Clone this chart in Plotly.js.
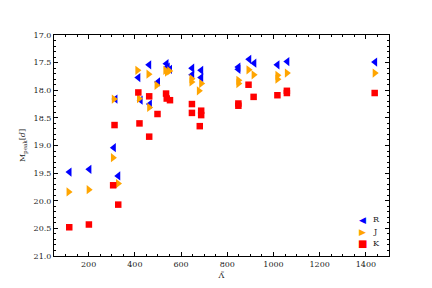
<!DOCTYPE html>
<html><head><meta charset="utf-8">
<script src="https://cdn.plot.ly/plotly-3.0.1.min.js"></script>
<style>body{margin:0;background:#fff}</style>
</head><body><div id="chart" style="width:432px;height:288px"></div>
<script>
const rX = [117, 203, 309, 316, 328, 415, 425, 462, 465, 500, 537, 542, 552, 648, 648, 687, 687, 848, 848, 895, 917, 1017, 1060, 1440];
const rY = [19.48, 19.43, 19.04, 18.16, 19.55, 17.77, 18.18, 17.54, 18.25, 17.85, 17.52, 17.58, 17.62, 17.60, 17.72, 17.64, 17.77, 17.58, 17.62, 17.44, 17.51, 17.54, 17.48, 17.49];
const jX = [113, 200, 305, 309, 327, 411, 418, 459, 462, 494, 532, 539, 549, 645, 645, 677, 687, 848, 848, 892, 914, 1017, 1017, 1058, 1438];
const jY = [19.84, 19.80, 19.22, 18.16, 19.69, 17.64, 18.15, 17.71, 18.31, 17.91, 17.64, 17.67, 17.65, 17.79, 17.85, 18.01, 17.88, 17.82, 17.88, 17.63, 17.72, 17.73, 17.80, 17.69, 17.69];
const kX = [116, 201, 306, 312, 328, 415, 420, 462, 462, 498, 535, 538, 552, 647, 647, 681, 687, 687, 848, 848, 892, 914, 1017, 1058, 1058, 1438];
const kY = [20.48, 20.43, 19.72, 18.63, 20.07, 18.04, 18.60, 18.11, 18.84, 18.43, 18.06, 18.15, 18.18, 18.25, 18.41, 18.65, 18.37, 18.45, 18.24, 18.28, 17.90, 18.12, 18.09, 18.01, 18.05, 18.05];
const seriesNames = ['R', 'J', 'K'];
const seriesColors = ['#0000ff', '#ffa500', '#ff0000'];
const legendGlyphs = ['◀', '▶', '■'];

const font = {family: 'DejaVu Serif, Liberation Serif, serif', size: 8, color: '#222'};
const traces = [
  {x: rX, y: rY, name: seriesNames[0], mode: 'markers', type: 'scatter', marker: {symbol: 'triangle-left', size: 8, color: seriesColors[0]}},
  {x: jX, y: jY, name: seriesNames[1], mode: 'markers', type: 'scatter', marker: {symbol: 'triangle-right', size: 8, color: seriesColors[1]}},
  {x: kX, y: kY, name: seriesNames[2], mode: 'markers', type: 'scatter', marker: {symbol: 'square', size: 6.5, color: seriesColors[2]}}
];
// compact legend drawn as annotations (Plotly's legend rows are too tall)
const annotations = [];
seriesNames.forEach((n, i) => {
  const yy = 0.164 - i * 0.054;
  annotations.push({xref: 'paper', yref: 'paper', x: 0.92, y: yy, xanchor: 'center', yanchor: 'middle', showarrow: false,
    text: legendGlyphs[i], font: {family: 'DejaVu Sans', size: i === 2 ? 10 : 9, color: seriesColors[i]}});
  annotations.push({xref: 'paper', yref: 'paper', x: 0.945, y: yy, xanchor: 'left', yanchor: 'middle', showarrow: false,
    text: n, font: font});
});
const axisCommon = {showline: true, linecolor: '#000', linewidth: 1, mirror: 'allticks', ticks: 'inside', ticklen: 4, tickcolor: '#000', showgrid: false, zeroline: false, tickfont: font};
const layout = {
  width: 432, height: 288,
  margin: {l: 54, r: 43, t: 35, b: 32},
  paper_bgcolor: '#fff', plot_bgcolor: '#fff',
  font: font,
  showlegend: false,
  annotations: annotations,
  xaxis: Object.assign({}, axisCommon, {range: [50, 1500], dtick: 200, tick0: 0,
    minor: {dtick: 50, ticks: 'inside', ticklen: 2, tickcolor: '#000'},
    title: {text: 'Λ̃', font: font, standoff: 4}}),
  yaxis: Object.assign({}, axisCommon, {range: [21, 17], dtick: 0.5, tick0: 17, tickformat: '.1f',
    minor: {dtick: 0.1, ticks: 'inside', ticklen: 2, tickcolor: '#000'},
    title: {text: 'M<sub>peak</sub>[<i>d</i>]', font: font, standoff: 6}})
};
Plotly.newPlot('chart', traces, layout, {displayModeBar: false, staticPlot: true});
</script></body></html>
